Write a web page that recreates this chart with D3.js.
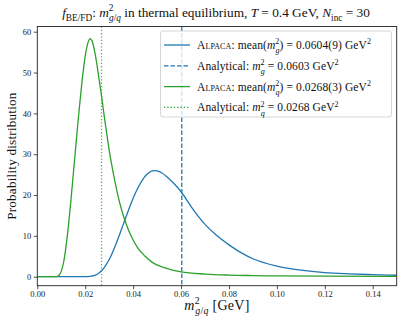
<!DOCTYPE html>
<html><head><meta charset="utf-8">
<script src="https://cdn.jsdelivr.net/npm/d3@7"></script>
<style>
html,body{margin:0;padding:0;background:#fff;}
svg{display:block;font-family:"Liberation Serif","Times New Roman",serif;}
</style></head>
<body><svg id="c" width="411" height="328"></svg>
<script>
// ---- data ----
const quarkX = [0,0.008,0.009,0.010,0.011,0.012,0.013,0.014,0.015,0.016,0.017,0.018,0.019,0.020,0.021,0.022,0.023,0.024,0.025,0.026,0.027,0.028,0.029,0.030,0.032,0.034,0.036,0.038,0.040,0.042,0.045,0.048,0.052,0.056,0.060,0.070,0.080,0.090,0.100,0.120,0.150];
const quarkY = [0,0,0.3,1.3,3.6,7.5,12.5,18.5,25,31.5,38,44,49.5,54,57,58.3,57.5,55,51.5,47.5,43.5,39,35,31,24.5,19,14.8,11.5,9,7,5,3.5,2.4,1.7,1.2,0.65,0.4,0.28,0.2,0.12,0.06];
const gluonX = [0,0.020,0.022,0.024,0.026,0.028,0.030,0.032,0.034,0.036,0.038,0.040,0.042,0.044,0.046,0.048,0.049,0.050,0.052,0.055,0.058,0.060,0.065,0.070,0.075,0.080,0.085,0.090,0.100,0.110,0.120,0.130,0.140,0.150];
const gluonY = [0,0,0.1,0.3,1.0,2.3,4.2,6.8,9.8,13,16.2,19.2,21.8,23.8,25.2,25.9,26.0,25.9,25.4,24,22.2,20.8,16.5,12.8,10,7.8,5.9,4.4,2.6,1.6,1.0,0.7,0.5,0.35];
const analyticGluon = 0.0603;
const analyticQuark = 0.0268;
const xTicks = [0,0.02,0.04,0.06,0.08,0.10,0.12,0.14];
const yTicks = [0,10,20,30,40,50,60];
const blue = "#1f77b4", green = "#2ca02c";

// ---- layout ----
const L = 37.3, R = 396.7, T = 26.5, B = 285.7;
const x = d3.scaleLinear().domain([0,0.15]).range([L,R]);
const y = d3.scaleLinear().domain([0,60]).range([276.7,31.7]);
const svg = d3.select("#c");

function rich(textSel, parts, size){
  let cur = 0;
  parts.forEach(p=>{
    const [txt, kind, dx] = p;
    const ts = textSel.append("tspan").text(txt);
    let target = 0, fs = size;
    if (kind.includes("sup")) { target = -0.42*size; fs = 0.7*size; }
    if (kind.includes("sub")) { target = 0.28*size; fs = 0.7*size; }
    if (kind.includes("lsub")) { target = 0.38*size; fs = 0.7*size; }
    ts.attr("dy", (target-cur).toFixed(2)); cur = target;
    ts.attr("font-size", fs);
    if (kind.includes("i")) ts.attr("font-style","italic");
    if (kind.includes("sc")) ts.attr("font-variant","small-caps");
    if (dx) ts.attr("dx", dx);
  });
}

// lines
const line = d3.line().x(d=>x(d[0])).y(d=>y(d[1])).curve(d3.curveMonotoneX);
const clip = svg.append("clipPath").attr("id","clp").append("rect")
  .attr("x",L).attr("y",T).attr("width",R-L).attr("height",B-T);
const plot = svg.append("g").attr("clip-path","url(#clp)");
plot.append("path").datum(d3.zip(gluonX,gluonY)).attr("d",line)
  .attr("fill","none").attr("stroke",blue).attr("stroke-width",1.3);
plot.append("line").attr("x1",x(analyticGluon)).attr("x2",x(analyticGluon)).attr("y1",T).attr("y2",B)
  .attr("stroke",blue).attr("stroke-width",1.3).attr("stroke-dasharray","4.5,2");
plot.append("path").datum(d3.zip(quarkX,quarkY)).attr("d",line)
  .attr("fill","none").attr("stroke",green).attr("stroke-width",1.3);
plot.append("line").attr("x1",x(analyticQuark)).attr("x2",x(analyticQuark)).attr("y1",T).attr("y2",B)
  .attr("stroke",green).attr("stroke-width",1.3).attr("stroke-opacity",0.8).attr("stroke-dasharray","1.3,2");

// axes
const xa = svg.append("g").attr("transform",`translate(0,${B})`)
  .call(d3.axisBottom(x).tickValues(xTicks).tickFormat(d3.format(".2f")).tickSize(3.5).tickPadding(2));
const ya = svg.append("g").attr("transform",`translate(${L},0)`)
  .call(d3.axisLeft(y).tickValues(yTicks).tickFormat(d3.format("d")).tickSize(3.5).tickPadding(2.5));
[xa,ya].forEach(a=>{
  a.select(".domain").remove();
  a.selectAll(".tick line").attr("stroke","#222").attr("stroke-width",0.8);
  a.selectAll(".tick text").attr("font-family","Liberation Serif").attr("font-size",8.5).attr("fill","#222");
});
svg.append("rect").attr("x",L).attr("y",T).attr("width",R-L).attr("height",B-T)
  .attr("fill","none").attr("stroke","#222").attr("stroke-width",0.9);

// title
const tt = svg.append("text").attr("x",216).attr("y",17).attr("text-anchor","middle")
  .attr("fill","#111");
rich(tt, [["f","i"],["BE/FD","sub"],[": ","n"],["m","i"],["2","sup"],["g","sub i",-4.4],["/","sub"],["q","sub i"],
  [" in thermal equilibrium, ","n"],["T","i"],[" = 0.4 GeV, ","n"],["N","i"],["inc","sub"],[" = 30","n"]], 13.3);

// axis labels
const xl = svg.append("text").attr("x",(L+R)/2).attr("y",310).attr("text-anchor","middle")
  .attr("fill","#111").attr("letter-spacing",0.3);
rich(xl, [["m","i"],["2","sup"],["g","sub i",-4.6],["/","sub"],["q","sub i"],[" [GeV]","n"]], 14);
svg.append("text").attr("transform",`translate(16,${(T+B)/2}) rotate(-90)`).attr("text-anchor","middle")
  .attr("font-size",13.2).attr("letter-spacing",0.2).attr("fill","#111").text("Probability distribution");

// legend
const lg = svg.append("g");
lg.append("rect").attr("x",160.5).attr("y",31).attr("width",231).attr("height",86).attr("rx",2.5)
  .attr("fill","white").attr("fill-opacity",0.8).attr("stroke","#ccc").attr("stroke-width",0.8);
const entries = [
  {c:blue, dash:null, parts:[["Alpaca","sc"],[": mean(","n"],["m","i"],["2","sup"],["g","lsub i",-4],[") = 0.0604(9) GeV","n"],["2","sup"]]},
  {c:blue, dash:"4.5,2", parts:[["Analytical: ","n"],["m","i"],["2","sup"],["g","lsub i",-4],[" = 0.0603 GeV","n"],["2","sup"]]},
  {c:green, dash:null, parts:[["Alpaca","sc"],[": mean(","n"],["m","i"],["2","sup"],["q","lsub i",-4],[") = 0.0268(3) GeV","n"],["2","sup"]]},
  {c:green, dash:"1.3,2", parts:[["Analytical: ","n"],["m","i"],["2","sup"],["q","lsub i",-4],[" = 0.0268 GeV","n"],["2","sup"]]}
];
entries.forEach((e,i)=>{
  const yy = 45 + i*20.8;
  const ln = lg.append("line").attr("x1",164).attr("x2",190).attr("y1",yy).attr("y2",yy)
    .attr("stroke",e.c).attr("stroke-width",1.3);
  if (e.dash) ln.attr("stroke-dasharray",e.dash);
  const t = lg.append("text").attr("x",197).attr("y",yy+4).attr("fill","#111").attr("letter-spacing",0.1);
  rich(t, e.parts, 11.5);
});
</script></body></html>
